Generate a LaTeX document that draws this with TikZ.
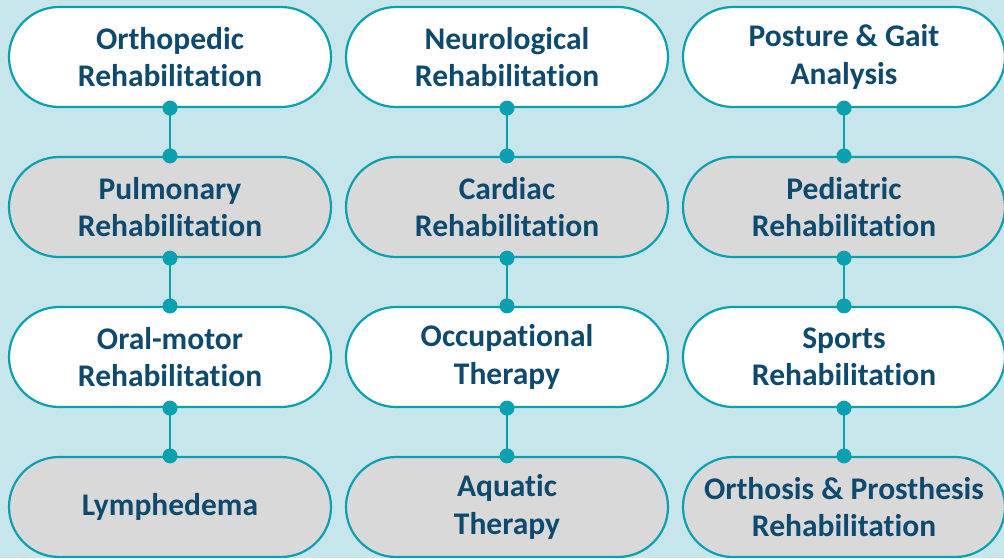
\documentclass[tikz,border=0pt]{standalone}
\usepackage{fontspec}
\setmainfont{Carlito}[Ligatures=NoCommon]
\definecolor{bgblue}{HTML}{C6E6EC}
\definecolor{teal}{HTML}{0AA0AF}
\definecolor{navy}{HTML}{0E4A6D}
\definecolor{pillgray}{HTML}{D9D9D9}
\tikzset{
  pill/.style={draw=teal, line width=2.2pt, rounded corners=50pt,
    minimum width=322pt, minimum height=100pt, align=center,
    text=navy, font=\fontsize{31.5}{37.5}\selectfont\bfseries},
  lite/.style={pill, fill=white},
  dark/.style={pill, fill=pillgray},
  dot/.style={circle, fill=teal, inner sep=0pt, minimum size=15pt}
}
\begin{document}
\begin{tikzpicture}[x=1pt, y=-1pt]
      \fill[bgblue] (0,0) rectangle (1004,558);
      \useasboundingbox (0,0) rectangle (1004,558);
      \draw
        (170,57) node[lite] (a1){Orthopedic\\Rehabilitation}
        (170,207) node[dark] (a2){Pulmonary\\Rehabilitation}
        (170,357) node[lite] (a3){Oral-motor\\Rehabilitation}
        (170,507) node[dark] (a4){Lymphedema}
        (507,57) node[lite] (b1){Neurological\\Rehabilitation}
        (507,207) node[dark] (b2){Cardiac\\Rehabilitation}
        (507,357) node[lite] (b3){Occupational\\Therapy}
        (507,507) node[dark] (b4){Aquatic\\Therapy}
        (844,57) node[lite] (c1){Posture \& Gait\\Analysis}
        (844,207) node[dark] (c2){Pediatric\\Rehabilitation}
        (844,357) node[lite] (c3){Sports\\Rehabilitation}
        (844,507) node[dark] (c4){Orthosis \& Prosthesis\\Rehabilitation};
      \begin{scope}[teal, line width=2pt]
        \foreach \col in {a,b,c}{
          \foreach \row/\next in {1/2,2/3,3/4}{
            \draw (\col\row.south) node[dot]{} to (\col\next.north) node[dot]{};
          }
        }
      \end{scope}
    \end{tikzpicture}
\end{document}
